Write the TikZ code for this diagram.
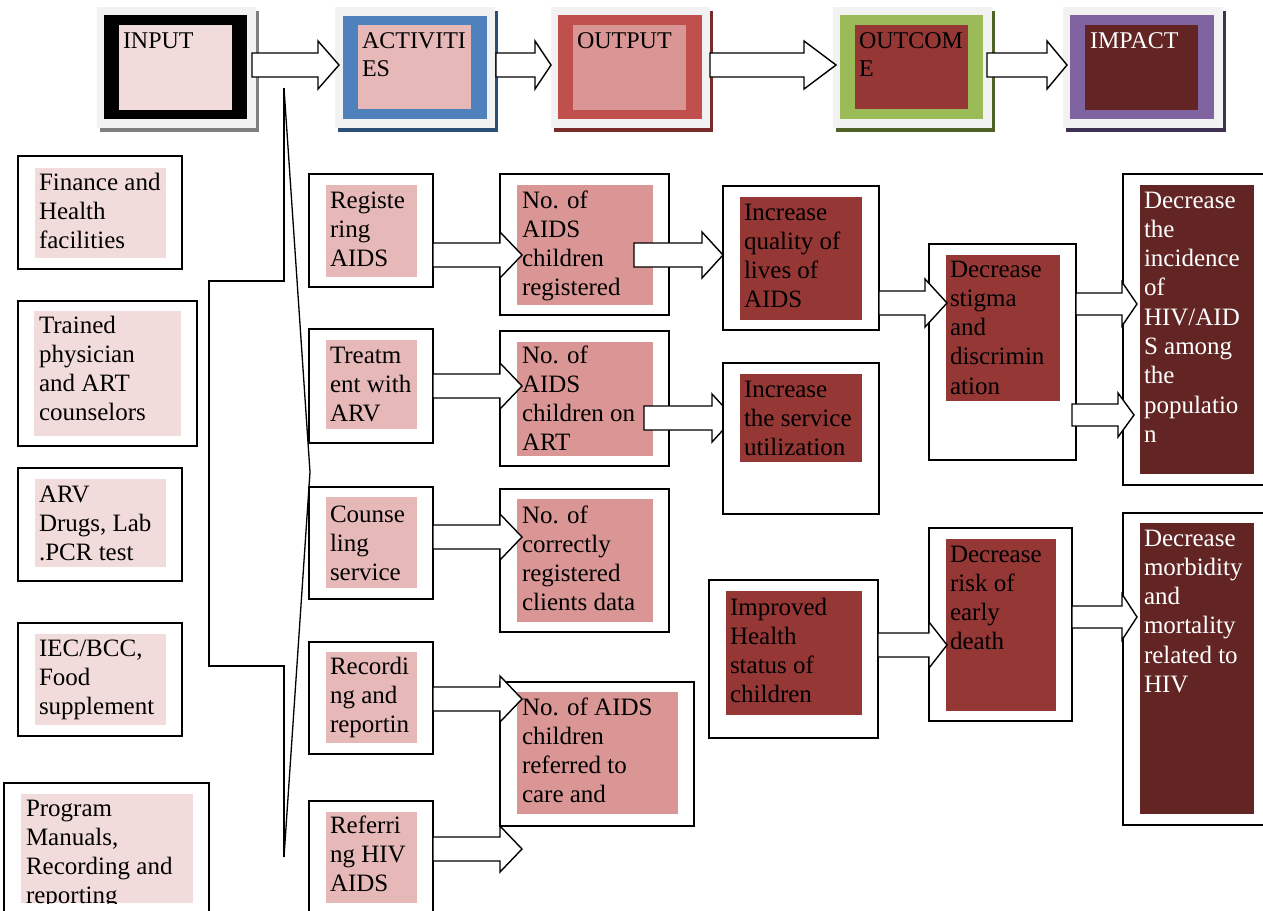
\documentclass[tikz,border=0pt]{standalone}
\usepackage{fontspec}
\setmainfont{Liberation Serif}
\definecolor{inpink}{HTML}{F2DCDB}
\definecolor{actpink}{HTML}{E6B9B8}
\definecolor{outpink}{HTML}{D99694}
\definecolor{ocred}{HTML}{953735}
\definecolor{impred}{HTML}{632523}
\definecolor{hblue}{HTML}{4F81BD}
\definecolor{hred}{HTML}{C0504D}
\definecolor{hgreen}{HTML}{9BBB59}
\definecolor{hpurple}{HTML}{8064A2}
\definecolor{hgray}{HTML}{F2F2F2}
\definecolor{sgray}{HTML}{7F7F7F}
\definecolor{sblue}{HTML}{2C4D75}
\definecolor{sred}{HTML}{772C2A}
\definecolor{sgreen}{HTML}{4F6228}
\definecolor{spurple}{HTML}{3F3151}
\newcommand\bodyfnt{\fontsize{25}{29.3}\selectfont}
\newcommand\headfnt{\fontsize{24}{28}\selectfont}
% name, x1, y1, x2, y2, style
\newcommand\rbox[6]{\node[#6, minimum width=#4-#2, minimum height=#5-#3] (#1) at ({(#2+#4)/2},{(#3+#5)/2}) {};}
% name, x, first baseline, style, text
\newcommand\btext[5]{\node[bodytxt,#4] (#1) at (#2,{#3-20.5}) {\strut#5};}
\newcommand\htext[5]{\node[headtxt,#4] (#1) at (#2,{#3-19.6}) {\strut#5};}
% x1, xhead, xtip, ycenter, body half, head half
\newcommand\barrow[6]{\draw[blockarrow] (#1,{#4-#5}) -- (#2,{#4-#5}) -- (#2,{#4-#6}) -- (#3,#4) -- (#2,{#4+#6}) -- (#2,{#4+#5}) -- (#1,{#4+#5}) -- cycle;}
\tikzset{
  outerbox/.style={draw=black, line width=1.8pt, fill=white, inner sep=0pt, outer sep=0pt},
  fillbox/.style={fill=#1, draw=none, inner sep=0pt, outer sep=0pt},
  bodytxt/.style={anchor=north west, inner sep=0pt, outer sep=0pt, align=left, font=\bodyfnt},
  headtxt/.style={anchor=north west, inner sep=0pt, outer sep=0pt, align=left, font=\headfnt},
  blockarrow/.style={draw=black, fill=white, line width=1.4pt, line join=miter},
  thinline/.style={draw=black, line width=1.3pt},
}
\begin{document}
\begin{tikzpicture}[x=1pt,y=-1pt]
\clip (0,0) rectangle (1263,910);
\fill[white] (0,0) rectangle (1263,910);

% ---------- header row ----------
% INPUT
\rbox{inS}{100}{11}{258.5}{132}{fillbox=sgray}
\rbox{inG}{97}{7}{256}{128}{fillbox=hgray}
\rbox{inC}{104}{15}{247}{119}{fillbox=black}
\rbox{inI}{119}{25}{232}{110}{fillbox=inpink}
\htext{inT}{123}{48}{}{INPUT}
% ACTIVITIES
\rbox{acS}{338}{11}{497.5}{132}{fillbox=sblue}
\rbox{acG}{335}{7}{495}{128}{fillbox=hgray}
\rbox{acC}{343}{16}{487}{119}{fillbox=hblue}
\rbox{acI}{358}{25}{471}{109}{fillbox=actpink}
\htext{acT}{362}{48}{}{ACTIVITI\\ES}
% OUTPUT
\rbox{ouS}{554}{11}{712.5}{132}{fillbox=sred}
\rbox{ouG}{551}{7}{710}{128}{fillbox=hgray}
\rbox{ouC}{558}{15}{702}{119}{fillbox=hred}
\rbox{ouI}{573}{25}{686}{110}{fillbox=outpink}
\htext{ouT}{577}{48}{}{OUTPUT}
% OUTCOME
\rbox{ocS}{836}{11}{994.5}{132}{fillbox=sgreen}
\rbox{ocG}{833}{7}{992}{128}{fillbox=hgray}
\rbox{ocC}{840}{15}{983}{119}{fillbox=hgreen}
\rbox{ocI}{855}{25}{968}{109}{fillbox=ocred}
\htext{ocT}{859}{48}{}{OUTCOM\\E}
% IMPACT
\rbox{imS}{1066}{11}{1225.5}{132}{fillbox=spurple}
\rbox{imG}{1063}{7}{1223}{128}{fillbox=hgray}
\rbox{imC}{1070}{15}{1214}{119}{fillbox=hpurple}
\rbox{imI}{1085}{25}{1198}{110}{fillbox=impred}
\htext{imT}{1090}{48}{text=white}{IMPACT}
% header arrows
\barrow{252}{318}{339}{65}{12}{24}
\barrow{496}{535}{551}{65}{12}{24}
\barrow{710}{804}{836}{65}{12}{24}
\barrow{987}{1047}{1067}{65}{12}{24}

% ---------- bracket lines ----------
\coordinate (b0) at (284,88);
\coordinate (b1) at (284,281);
\coordinate (b2) at (209,281);
\coordinate (b3) at (209,666);
\coordinate (b4) at (284,666);
\coordinate (b5) at (284,857);
\coordinate (w1) at (310,472);
\draw[thinline] (b0) -- (b1) -- (b2) -- (b3) -- (b4) -- (b5);
\draw[thinline] (b0) -- (w1) -- (b5);

% ---------- inputs ----------
\rbox{I1}{18}{156}{182}{269}{outerbox}
\rbox{I1p}{35}{168}{166}{258}{fillbox=inpink}
\rbox{I2}{18}{301}{197}{446}{outerbox}
\rbox{I2p}{34}{311}{181}{436}{fillbox=inpink}
\rbox{I3}{18}{468}{182}{581}{outerbox}
\rbox{I3p}{35}{479}{166}{567}{fillbox=inpink}
\rbox{I4}{18}{623}{182}{736}{outerbox}
\rbox{I4p}{35}{634}{166}{725}{fillbox=inpink}
\rbox{I5}{4}{783}{209}{935}{outerbox}
\rbox{I5p}{21}{794}{193}{903}{fillbox=inpink}

% ---------- activities ----------
\rbox{A1}{309}{174}{433}{287}{outerbox}
\rbox{A1p}{326}{185}{417}{277}{fillbox=actpink}
\rbox{A2}{309}{329}{433}{443}{outerbox}
\rbox{A2p}{326}{340}{417}{429}{fillbox=actpink}
\rbox{A3}{309}{487}{433}{599}{outerbox}
\rbox{A3p}{326}{497}{417}{588}{fillbox=actpink}
\rbox{A4}{309}{642}{433}{754}{outerbox}
\rbox{A4p}{326}{652}{417}{743}{fillbox=actpink}
\rbox{A5}{309}{801}{433}{935}{outerbox}
\rbox{A5p}{326}{812}{417}{903}{fillbox=actpink}

% ---------- outputs ----------
\rbox{O1}{500}{174}{669}{315}{outerbox}
\rbox{O1p}{517}{185}{653}{305}{fillbox=outpink}
\rbox{O2}{500}{331}{669}{466}{outerbox}
\rbox{O2p}{517}{342}{653}{456}{fillbox=outpink}
\rbox{O3}{500}{489}{669}{632}{outerbox}
\rbox{O3p}{517}{499}{653}{622}{fillbox=outpink}
\rbox{O4}{500}{682}{694}{826}{outerbox}
\rbox{O4p}{517}{692}{678}{814}{fillbox=outpink}

% arrow under OC2
\barrow{644}{712}{734}{418}{12}{24}

% ---------- outcomes ----------
\rbox{C1}{723}{186}{879}{330}{outerbox}
\rbox{C1p}{740}{197}{862}{320}{fillbox=ocred}
\rbox{C2}{723}{363}{879}{514}{outerbox}
\rbox{C2p}{740}{374}{862}{462}{fillbox=ocred}
\rbox{C3}{709}{580}{878}{738}{outerbox}
\rbox{C3p}{726}{591}{862}{715}{fillbox=ocred}
\rbox{S1}{929}{244}{1076}{460}{outerbox}
\rbox{S1p}{946}{255}{1060}{401}{fillbox=ocred}
\rbox{S2}{929}{528}{1072}{721}{outerbox}
\rbox{S2p}{946}{539}{1056}{711}{fillbox=ocred}

% ---------- impacts ----------
\rbox{M1}{1123}{174}{1280}{485}{outerbox}
\rbox{M1p}{1140}{185}{1254}{474}{fillbox=impred}
\rbox{M2}{1123}{513}{1280}{825}{outerbox}
\rbox{M2p}{1140}{523}{1254}{814}{fillbox=impred}

% ---------- body arrows ----------
\barrow{433}{500}{522}{255}{12}{23}
\barrow{634}{702}{723}{255}{12}{23}
\barrow{433}{500}{522}{386}{12}{23}
\barrow{433}{500}{522}{537}{12}{23}
\barrow{433}{500}{522}{699}{12}{23}
\barrow{433}{500}{522}{849}{12}{23}
\barrow{879}{925}{947}{303}{12}{24}
\barrow{878}{929}{947}{645}{12}{23}
\barrow{1076}{1122}{1137}{304}{11}{22}
\barrow{1072}{1118}{1134}{415}{11}{22}
\barrow{1072}{1122}{1137}{617}{11}{23}

% ---------- texts ----------
\btext{I1t}{39}{190}{}{Finance and\\Health\\facilities}
\btext{I2t}{39}{333}{}{Trained\\physician\\and ART\\counselors}
\btext{I3t}{39}{502}{}{ARV\\Drugs, Lab\\.PCR test}
\btext{I4t}{39}{656}{}{IEC/BCC,\\Food\\supplement}
\begin{scope}
\clip (21,794) rectangle (193,903);
\btext{I5t}{26}{816}{}{Program\\Manuals,\\Recording and\\reporting}
\end{scope}

\btext{A1t}{330}{208}{}{Registe\\ring\\AIDS}
\btext{A2t}{330}{363}{}{Treatm\\ent with\\ARV}
\btext{A3t}{330}{522}{}{Counse\\ling\\service}
\btext{A4t}{330}{674}{}{Recordi\\ng and\\reportin}
\btext{A5t}{330}{833}{}{Referri\\ng HIV\\AIDS}

\btext{O1t}{522}{208}{}{No. of\\AIDS\\children\\registered}
\btext{O2t}{522}{363}{}{No. of\\AIDS\\children on\\ART}
\btext{O3t}{522}{523}{}{No. of\\correctly\\registered\\clients data}
\btext{O4t}{522}{715}{}{No. of AIDS\\children\\referred to\\care and}

\btext{C1t}{744}{220}{}{Increase\\quality of\\lives of\\AIDS}
\btext{C2t}{744}{397}{}{Increase\\the service\\utilization}
\btext{C3t}{730}{615}{}{Improved\\Health\\status of\\children}
\btext{S1t}{950}{277}{}{Decrease\\stigma\\and\\discrimin\\ation}
\btext{S2t}{950}{562}{}{Decrease\\risk of\\early\\death}

\btext{M1t}{1144}{208}{text=white}{Decrease\\the\\incidence\\of\\HIV/AID\\S among\\the\\populatio\\n}
\btext{M2t}{1144}{546}{text=white}{Decrease\\morbidity\\and\\mortality\\related to\\HIV}
\end{tikzpicture}
\end{document}
